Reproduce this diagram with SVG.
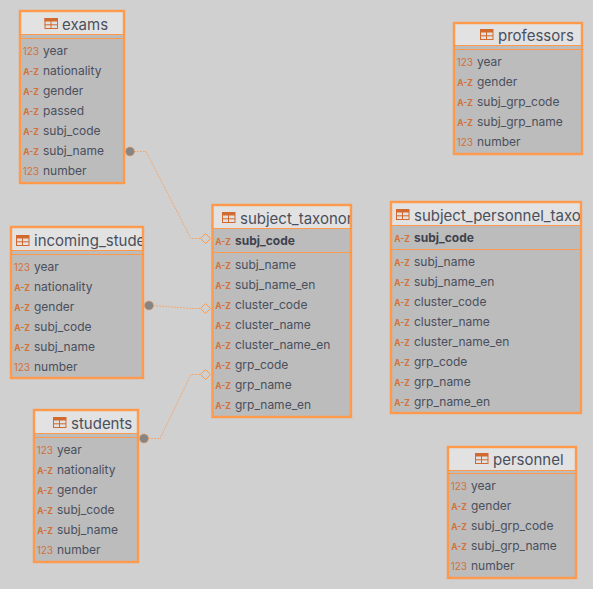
<svg xmlns="http://www.w3.org/2000/svg" width="593" height="589" viewBox="0 0 593 589">
<style>
text{font-family:Inter,"Noto Sans","Liberation Sans",sans-serif}
.box{fill:#bcbcbc}
.frame{fill:none;stroke:#ff9a4d;stroke-width:2.4}
.head{fill:#e2e2e2}
.sep{stroke:#ff9a4d;stroke-width:1;fill:none}
.title{font-size:15px;fill:#4a4f5c}
.f{font-size:12px;fill:#4a4f5c}
.k{font-size:12px;font-weight:700;fill:#3e424c}
.n{font-size:10px;fill:#d2723a;text-anchor:end}
.a{font-size:8.500px;font-weight:700;fill:#d2723a;text-anchor:end}
.conn{fill:none;stroke:#ff9a4d;stroke-width:1;stroke-dasharray:2 1;opacity:.75}
.dot{fill:#858585;stroke:#ff9a4d;stroke-width:1;stroke-opacity:.55}
.dia{fill:none;stroke:#ff9a4d;stroke-width:1}
.i{fill:none;stroke:#d2692e;stroke-width:1}
.ib{fill:#d2692e}
</style>
<defs>
<g id="tbl"><rect class="i" x=".5" y=".5" width="12.500" height="10"/><rect class="ib" x="0" y="0" width="13" height="3.500"/><path class="i" d="M0 6.800H13M6.500 3V10"/></g>
<clipPath id="c1"><rect x="212" y="205" width="138" height="24"/></clipPath>
<clipPath id="c2"><rect x="391" y="202" width="189" height="24"/></clipPath>
<clipPath id="c3"><rect x="11" y="227" width="131" height="24"/></clipPath>
</defs>
<rect width="593" height="589" fill="#d0d0d0"/>
<g id="connectors">
<path class="conn" d="M134 151.500H146L191 238.500H200"/>
<path class="conn" d="M153 305.500L191 308.500H200"/>
<path class="conn" d="M148 438.500H160L191 374.500H200"/>
<circle class="dot" cx="130" cy="151.500" r="4.500"/>
<circle class="dot" cx="149" cy="305.500" r="4.500"/>
<circle class="dot" cx="144" cy="438.500" r="4.500"/>
<path class="dia" d="M200.500 238.500L205.500 233.500L210.500 238.500L205.500 243.500Z"/>
<path class="dia" d="M200.500 308.500L205.500 303.500L210.500 308.500L205.500 313.500Z"/>
<path class="dia" d="M200.500 374.500L205.500 369.500L210.500 374.500L205.500 379.500Z"/>
</g>
<g id="exams">
<rect class="box" x="20" y="11" width="104" height="172"/><rect class="head" x="20" y="11" width="104" height="23"/>
<path class="sep" d="M20 34.500H124M20 38.500H124"/><rect class="frame" x="20" y="11" width="104" height="172"/>
<use href="#tbl" x="44.500" y="18"/><text class="title" x="62" y="30">exams</text>
<text class="n" x="39" y="55">123</text><text class="f" x="43" y="55">year</text>
<text class="a" x="39" y="75">A-Z</text><text class="f" x="43" y="75">nationality</text>
<text class="a" x="39" y="95">A-Z</text><text class="f" x="43" y="95">gender</text>
<text class="a" x="39" y="115">A-Z</text><text class="f" x="43" y="115">passed</text>
<text class="a" x="39" y="135">A-Z</text><text class="f" x="43" y="135">subj_code</text>
<text class="a" x="39" y="155">A-Z</text><text class="f" x="43" y="155">subj_name</text>
<text class="n" x="39" y="175">123</text><text class="f" x="43" y="175">number</text>
</g>
<g id="incoming_students">
<rect class="box" x="11" y="227" width="132" height="151"/><rect class="head" x="11" y="227" width="132" height="23"/>
<path class="sep" d="M11 250.500H143M11 254.500H143"/><rect class="frame" x="11" y="227" width="132" height="151"/>
<use href="#tbl" x="16" y="235"/><text class="title" clip-path="url(#c3)" x="34" y="246">incoming_students</text>
<text class="n" x="30" y="271">123</text><text class="f" x="34" y="271">year</text>
<text class="a" x="30" y="291">A-Z</text><text class="f" x="34" y="291">nationality</text>
<text class="a" x="30" y="311">A-Z</text><text class="f" x="34" y="311">gender</text>
<text class="a" x="30" y="331">A-Z</text><text class="f" x="34" y="331">subj_code</text>
<text class="a" x="30" y="351">A-Z</text><text class="f" x="34" y="351">subj_name</text>
<text class="n" x="30" y="371">123</text><text class="f" x="34" y="371">number</text>
</g>
<g id="students">
<rect class="box" x="34" y="410" width="104" height="152"/><rect class="head" x="34" y="410" width="104" height="23"/>
<path class="sep" d="M34 433.500H138M34 437.500H138"/><rect class="frame" x="34" y="410" width="104" height="152"/>
<use href="#tbl" x="53" y="417"/><text class="title" x="71" y="429">students</text>
<text class="n" x="53" y="454">123</text><text class="f" x="57" y="454">year</text>
<text class="a" x="53" y="474">A-Z</text><text class="f" x="57" y="474">nationality</text>
<text class="a" x="53" y="494">A-Z</text><text class="f" x="57" y="494">gender</text>
<text class="a" x="53" y="514">A-Z</text><text class="f" x="57" y="514">subj_code</text>
<text class="a" x="53" y="534">A-Z</text><text class="f" x="57" y="534">subj_name</text>
<text class="n" x="53" y="554">123</text><text class="f" x="57" y="554">number</text>
</g>
<g id="subject_taxonomy">
<rect class="box" x="212.500" y="205" width="138.500" height="212"/><rect class="head" x="212.500" y="205" width="138.500" height="23"/>
<path class="sep" d="M212 228.500H351M212 252.500H351"/><rect class="frame" x="212.500" y="205" width="138.500" height="212"/>
<use href="#tbl" x="222" y="212"/><text class="title" clip-path="url(#c1)" x="240" y="224">subject_taxonomy</text>
<text class="a" x="231" y="245">A-Z</text><text class="k" x="235" y="245">subj_code</text>
<text class="a" x="231" y="269">A-Z</text><text class="f" x="235" y="269">subj_name</text>
<text class="a" x="231" y="289">A-Z</text><text class="f" x="235" y="289">subj_name_en</text>
<text class="a" x="231" y="309">A-Z</text><text class="f" x="235" y="309">cluster_code</text>
<text class="a" x="231" y="329">A-Z</text><text class="f" x="235" y="329">cluster_name</text>
<text class="a" x="231" y="349">A-Z</text><text class="f" x="235" y="349">cluster_name_en</text>
<text class="a" x="231" y="369">A-Z</text><text class="f" x="235" y="369">grp_code</text>
<text class="a" x="231" y="389">A-Z</text><text class="f" x="235" y="389">grp_name</text>
<text class="a" x="231" y="409">A-Z</text><text class="f" x="235" y="409">grp_name_en</text>
</g>
<g id="subject_personnel_taxonomy">
<rect class="box" x="391" y="202" width="190" height="211"/><rect class="head" x="391" y="202" width="190" height="23"/>
<path class="sep" d="M391 225.500H581M391 249.500H581"/><rect class="frame" x="391" y="202" width="190" height="211"/>
<use href="#tbl" x="396" y="209"/><text class="title" clip-path="url(#c2)" x="414" y="221">subject_personnel_taxonomy</text>
<text class="a" x="410" y="242">A-Z</text><text class="k" x="414" y="242">subj_code</text>
<text class="a" x="410" y="266">A-Z</text><text class="f" x="414" y="266">subj_name</text>
<text class="a" x="410" y="286">A-Z</text><text class="f" x="414" y="286">subj_name_en</text>
<text class="a" x="410" y="306">A-Z</text><text class="f" x="414" y="306">cluster_code</text>
<text class="a" x="410" y="326">A-Z</text><text class="f" x="414" y="326">cluster_name</text>
<text class="a" x="410" y="346">A-Z</text><text class="f" x="414" y="346">cluster_name_en</text>
<text class="a" x="410" y="366">A-Z</text><text class="f" x="414" y="366">grp_code</text>
<text class="a" x="410" y="386">A-Z</text><text class="f" x="414" y="386">grp_name</text>
<text class="a" x="410" y="406">A-Z</text><text class="f" x="414" y="406">grp_name_en</text>
</g>
<g id="professors">
<rect class="box" x="454" y="23" width="128" height="131"/><rect class="head" x="454" y="23" width="128" height="22"/>
<path class="sep" d="M454 45.500H582M454 49.500H582"/><rect class="frame" x="454" y="23" width="128" height="131"/>
<use href="#tbl" x="480" y="29"/><text class="title" x="498" y="41">professors</text>
<text class="n" x="473" y="66">123</text><text class="f" x="477" y="66">year</text>
<text class="a" x="473" y="86">A-Z</text><text class="f" x="477" y="86">gender</text>
<text class="a" x="473" y="106">A-Z</text><text class="f" x="477" y="106">subj_grp_code</text>
<text class="a" x="473" y="126">A-Z</text><text class="f" x="477" y="126">subj_grp_name</text>
<text class="n" x="473" y="146">123</text><text class="f" x="477" y="146">number</text>
</g>
<g id="personnel">
<rect class="box" x="448" y="447" width="128" height="131"/><rect class="head" x="448" y="447" width="128" height="23"/>
<path class="sep" d="M448 470.500H576M448 473.500H576"/><rect class="frame" x="448" y="447" width="128" height="131"/>
<use href="#tbl" x="475" y="453"/><text class="title" x="493" y="465">personnel</text>
<text class="n" x="467" y="490">123</text><text class="f" x="471" y="490">year</text>
<text class="a" x="467" y="510">A-Z</text><text class="f" x="471" y="510">gender</text>
<text class="a" x="467" y="530">A-Z</text><text class="f" x="471" y="530">subj_grp_code</text>
<text class="a" x="467" y="550">A-Z</text><text class="f" x="471" y="550">subj_grp_name</text>
<text class="n" x="467" y="570">123</text><text class="f" x="471" y="570">number</text>
</g>
</svg>
